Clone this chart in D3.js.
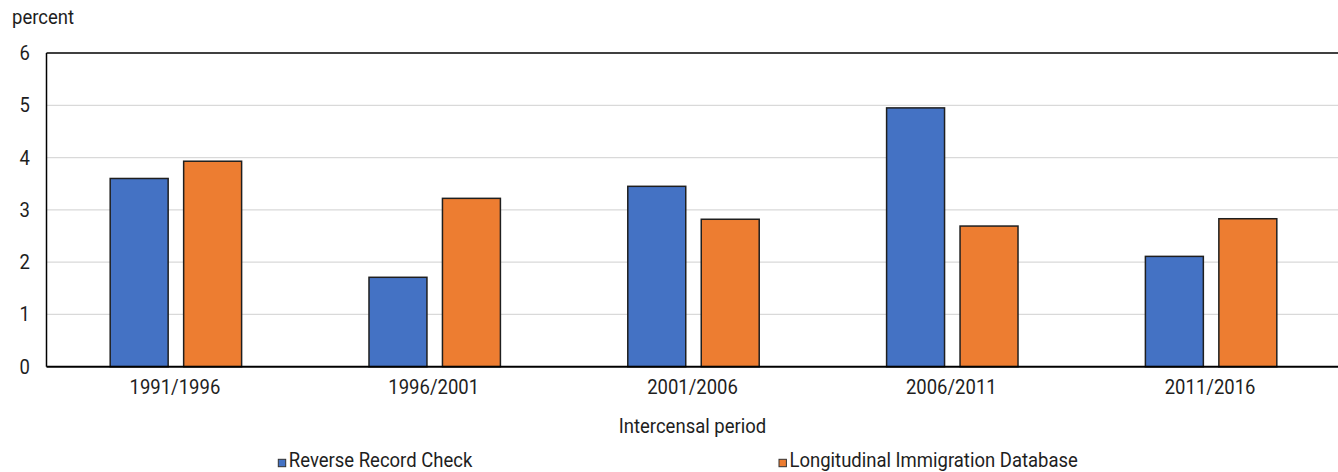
<!DOCTYPE html>
<html><head><meta charset="utf-8">
<script src="https://cdn.jsdelivr.net/npm/d3@7"></script>
<style>
body{margin:0;background:#fff;}
text{font-family:Roboto,"Liberation Sans",sans-serif;fill:#1e1e1e;}
</style></head>
<body><svg id="c" width="1338" height="472"></svg>
<script>
const categories = ["1991/1996","1996/2001","2001/2006","2006/2011","2011/2016"];
const seriesNames = ["Reverse Record Check","Longitudinal Immigration Database"];
const rrc = [3.6, 1.71, 3.45, 4.95, 2.11];
const lid = [3.93, 3.22, 2.82, 2.69, 2.83];
const yTicks = [0,1,2,3,4,5,6];
const colors = ["#4472c4","#ed7d31"];

const svg = d3.select("#c");
const W = 1338;
const left = 46.5, step = 258.8;
const x = d3.scaleBand().domain(categories).range([left, left + step*categories.length]).padding(0);
const xs = d3.scaleBand().domain([0,1]).range([0, x.bandwidth()]).paddingInner(0.211).paddingOuter(0.867);
const y = d3.scaleLinear().domain([0,6]).range([366.7, 53]);

// gridlines
svg.append("g").selectAll("line").data(yTicks.filter(d=>d>0&&d<6)).join("line")
  .attr("x1", left).attr("x2", W).attr("y1", d=>y(d)).attr("y2", d=>y(d))
  .attr("stroke","#d9d9d9").attr("stroke-width",1.3);

const data = [rrc, lid];
const g = svg.append("g");
data.forEach((vals, si) => {
  g.selectAll(".s"+si).data(vals).join("rect")
    .attr("x", (d,i)=>x(categories[i]) + xs(si))
    .attr("width", xs.bandwidth())
    .attr("y", d=>y(d))
    .attr("height", d=>y(0)-y(d))
    .attr("fill", colors[si]).attr("stroke","#1f1f1f").attr("stroke-width",1.5);
});

// borders
svg.append("line").attr("x1",left).attr("x2",W).attr("y1",y(6)).attr("y2",y(6)).attr("stroke","#000").attr("stroke-width",1.5);
svg.append("line").attr("x1",left).attr("x2",left).attr("y1",y(6)).attr("y2",y(0)).attr("stroke","#000").attr("stroke-width",1.5);
svg.append("line").attr("x1",left).attr("x2",W).attr("y1",y(0)).attr("y2",y(0)).attr("stroke","#000").attr("stroke-width",2);

const fs = 20, sx = 0.925;
function txt(parent, tx, ty, str, anchor, dy) {
  const t = parent.append("text")
    .attr("transform", `translate(${tx},${ty}) scale(${sx},1)`)
    .attr("font-size", fs).attr("text-anchor", anchor || "start").text(str);
  if (dy) t.attr("dy", dy);
  return t;
}
// y tick labels
yTicks.forEach(d => txt(svg, 24.7, y(d), d, "middle", "0.35em"));
txt(svg, 12, 24, "percent");

// x labels
categories.forEach(d => txt(svg, x(d)+x.bandwidth()/2 - 1, 393.5, d, "middle"));
txt(svg, 692.5, 433, "Intercensal period", "middle");

// legend
const legX = [278.3, 779];
seriesNames.forEach((n,i)=>{
  svg.append("rect").attr("x",legX[i]).attr("y",459.3).attr("width",7.4).attr("height",7.4)
    .attr("fill",colors[i]).attr("stroke","#333").attr("stroke-width",1);
  txt(svg, legX[i]+10.5, 466.5, n);
});
</script></body></html>
